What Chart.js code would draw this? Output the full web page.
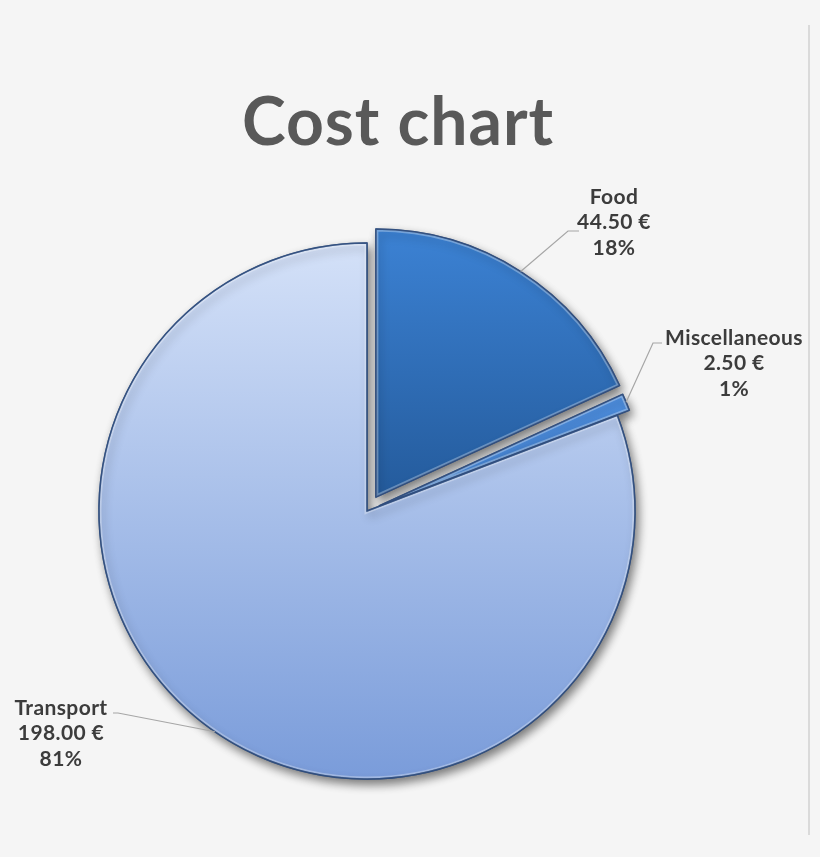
<!DOCTYPE html>
<html>
<head>
<meta charset="utf-8">
<title>Cost chart</title>
<script src="https://cdn.jsdelivr.net/npm/chart.js@4.4.0/dist/chart.umd.min.js"></script>
<style>
    html, body { margin: 0; padding: 0; background: #f5f5f5; }
    #wrap { width: 820px; height: 857px; position: relative; }
</style>
</head>
<body>
<div id="wrap"><canvas id="costChart"></canvas></div>
<script>
// data
const categories = ['Food', 'Miscellaneous', 'Transport'];
const costs = [44.50, 2.50, 198.00];
const percentLabels = ['18%', '1%', '81%'];
const chartTitle = 'Cost chart';

// gradient colours per slice (top, bottom)
const sliceColors = [
    ['#3c82d4', '#0c3464'],
    ['#5a9cec', '#2f6cbc'],
    ['#d4e1f8', '#7a9cda']
];

// how far each slice is pulled out of the pie (px)
const explode = [16.5, 13, 0];

// where each label sits, and the leader line elbow
const labelLayout = [
    { x: 614, y: 197, elbowX: 568, elbowY: 231, endX: 579 },
    { x: 734, y: 338, elbowX: 653, elbowY: 343, endX: 662 },
    { x: 61, y: 708, elbowX: 118, elbowY: 713, endX: 113 }
];

const euro = v => v.toFixed(2) + ' \u20ac';

function explodeShift(arc, i) {
    const p = arc.getProps(['startAngle', 'endAngle'], true);
    const mid = (p.startAngle + p.endAngle) / 2;
    return { dx: Math.cos(mid) * explode[i], dy: Math.sin(mid) * explode[i] };
}

// background, right border line and title
const backdrop = {
    id: 'backdrop',
    beforeDraw(chart) {
        const ctx = chart.ctx;
        ctx.save();
        ctx.fillStyle = '#f5f5f5';
        ctx.fillRect(0, 0, chart.width, chart.height);
        ctx.strokeStyle = '#dadada';
        ctx.lineWidth = 2;
        ctx.beginPath();
        ctx.moveTo(809, 25);
        ctx.lineTo(809, 835);
        ctx.stroke();

        ctx.fillStyle = '#595959';
        ctx.font = 'bold 66px Lato, "Open Sans", sans-serif';
        ctx.letterSpacing = '1px';
        ctx.textAlign = 'center';
        ctx.textBaseline = 'alphabetic';
        ctx.fillText(chartTitle, 398, 145);
        ctx.restore();
    }
};

// drop shadow under the slices + pull the exploded slices out
const shadow = {
    id: 'shadow',
    beforeDatasetsDraw(chart) {
        const ctx = chart.ctx;
        chart.getDatasetMeta(0).data.forEach((arc, i) => {
            if (arc._exploded) return;
            const orig = arc.draw.bind(arc);
            arc.draw = function (c, area) {
                const s = explodeShift(arc, i);
                c.save();
                c.translate(s.dx, s.dy);
                orig(c, area);
                c.restore();
            };
            arc._exploded = true;
        });
        ctx.save();
        ctx.shadowColor = 'rgba(0,0,0,0.5)';
        ctx.shadowBlur = 10;
        ctx.shadowOffsetX = 3;
        ctx.shadowOffsetY = 5;
    },
    afterDatasetsDraw(chart) {
        chart.ctx.restore();
    }
};

function arcPath(ctx, p, s) {
    const cx = p.x + s.dx;
    const cy = p.y + s.dy;
    ctx.beginPath();
    ctx.moveTo(cx, cy);
    ctx.arc(cx, cy, p.outerRadius, p.startAngle, p.endAngle);
    ctx.closePath();
}

// light inner bevel edge, then labels with leader lines
const sliceLabels = {
    id: 'sliceLabels',
    afterDatasetsDraw(chart) {
        const ctx = chart.ctx;
        const arcs = chart.getDatasetMeta(0).data;
        ctx.save();
        arcs.forEach((arc, i) => {
            const p = arc.getProps(['x', 'y', 'startAngle', 'endAngle', 'outerRadius'], true);
            const s = explodeShift(arc, i);
            ctx.save();
            arcPath(ctx, p, s);
            ctx.clip();
            ctx.strokeStyle = 'rgba(255,255,255,0.3)';
            ctx.lineWidth = 5;
            ctx.stroke();
            ctx.restore();
            ctx.save();
            arcPath(ctx, p, s);
            ctx.strokeStyle = 'rgba(45,75,125,0.85)';
            ctx.lineWidth = 1.5;
            ctx.stroke();
            ctx.restore();
        });

        arcs.forEach((arc, i) => {
            const p = arc.getProps(['x', 'y', 'startAngle', 'endAngle', 'outerRadius'], true);
            const mid = (p.startAngle + p.endAngle) / 2;
            const s = explodeShift(arc, i);
            const ax = p.x + s.dx + Math.cos(mid) * p.outerRadius;
            const ay = p.y + s.dy + Math.sin(mid) * p.outerRadius;
            const lay = labelLayout[i];

            ctx.strokeStyle = '#a6a6a6';
            ctx.lineWidth = 1.2;
            ctx.beginPath();
            ctx.moveTo(ax, ay);
            ctx.lineTo(lay.elbowX, lay.elbowY);
            ctx.lineTo(lay.endX, lay.elbowY);
            ctx.stroke();

            ctx.fillStyle = '#3c3c3c';
            ctx.font = 'bold 21px Lato, "Open Sans", sans-serif';
            ctx.letterSpacing = '0.4px';
            ctx.textAlign = 'center';
            ctx.textBaseline = 'middle';
            const lines = [categories[i], euro(costs[i]), percentLabels[i]];
            lines.forEach((t, k) => ctx.fillText(t, lay.x, lay.y + k * 25.5));
        });
        ctx.restore();
    }
};

function sliceGradient(context) {
    const chart = context.chart;
    const area = chart.chartArea;
    if (!area) return sliceColors[context.dataIndex][0];
    const cy = (area.top + area.bottom) / 2;
    const r = 268;
    const g = chart.ctx.createLinearGradient(0, cy - r, 0, cy + r);
    g.addColorStop(0, sliceColors[context.dataIndex][0]);
    g.addColorStop(1, sliceColors[context.dataIndex][1]);
    return g;
}

new Chart(document.getElementById('costChart'), {
    type: 'pie',
    data: {
        labels: categories,
        datasets: [{
            data: costs,
            backgroundColor: sliceGradient,
            borderColor: 'rgba(45,75,125,0.85)',
            borderWidth: 1.5,
            radius: 268
        }]
    },
    options: {
        responsive: true,
        maintainAspectRatio: false,
        animation: false,
        events: [],
        layout: {
            padding: { left: 0, right: 86, top: 168, bottom: 3 }
        },
        plugins: {
            legend: { display: false },
            tooltip: { enabled: false },
            title: { display: false }
        }
    },
    plugins: [backdrop, shadow, sliceLabels]
});
</script>
</body>
</html>
